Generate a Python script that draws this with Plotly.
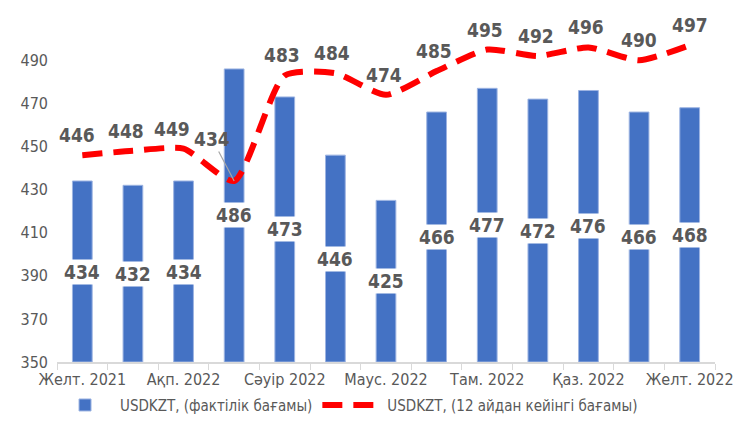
import plotly.graph_objects as go

months = ["Желт. 2021", "Қаң. 2022", "Ақп. 2022", "Нау. 2022", "Сәуір 2022", "Мам. 2022",
          "Маус. 2022", "Шілде 2022", "Там. 2022", "Қырк. 2022", "Қаз. 2022", "Қар. 2022", "Желт. 2022"]
tick_labels = ["Желт. 2021", "", "Ақп. 2022", "", "Сәуір 2022", "", "Маус. 2022", "",
               "Там. 2022", "", "Қаз. 2022", "", "Желт. 2022"]
actual = [434, 432, 434, 486, 473, 446, 425, 466, 477, 472, 476, 466, 468]
expected = [446, 448, 449, 434, 483, 484, 474, 485, 495, 492, 496, 490, 497]

name_bar = "USDKZT, (фактілік бағамы)"
name_line = "USDKZT, (12 айдан кейінгі бағамы)"

FONT = "DejaVu Sans Condensed, Liberation Sans Narrow, sans-serif"
GREY = "#595959"

fig = go.Figure()
fig.add_trace(go.Bar(
    x=months, y=[v - 350 for v in actual], base=350, name=name_bar,
    marker=dict(color="#4472C4", line=dict(color="#9DB4E2", width=1)),
    width=0.39, hoverinfo="skip",
))
fig.add_trace(go.Scatter(
    x=months, y=expected, name=name_line, mode="lines",
    line=dict(color="#FF0000", width=6, dash="20px,11px", shape="spline", smoothing=0.6),
))

line_xshift = [-5, -7, -12, 0, -3, -3, -2, -3, -2, -2, -2, 0, 0]
annotations = []
for m, v in zip(months, actual):
    annotations.append(dict(
        x=m, y=(350 + v) / 2, text=f"<b>{v}</b>", showarrow=False,
        bgcolor="white", borderpad=1,
        font=dict(family=FONT, size=19, color=GREY),
    ))
for i, (m, v) in enumerate(zip(months, expected)):
    if i == 3:
        annotations.append(dict(
            x=m, y=v, text=f"<b>{v}</b>", showarrow=True, arrowhead=0,
            arrowcolor="#A6A6A6", arrowwidth=1.2, ax=-22, ay=-42,
            font=dict(family=FONT, size=19, color=GREY),
        ))
    else:
        annotations.append(dict(
            x=m, y=v, text=f"<b>{v}</b>", showarrow=False, yshift=20, xshift=line_xshift[i],
            font=dict(family=FONT, size=19, color=GREY),
        ))

fig.update_layout(
    width=737, height=428,
    margin=dict(l=49, r=18, t=20, b=74),
    paper_bgcolor="white", plot_bgcolor="white",
    font=dict(family=FONT, size=15, color=GREY),
    bargap=0.6,
    showlegend=True,
    legend=dict(orientation="h", x=0.44, xanchor="center", y=-0.08, yanchor="top",
                font=dict(family=FONT, size=15, color=GREY), itemwidth=60),
    annotations=annotations,
    xaxis=dict(
        type="category", tickmode="array", tickvals=months, ticktext=tick_labels,
        tickson="boundaries", ticks="outside", ticklen=6, tickcolor="#D9D9D9",
        showline=True, linecolor="#D9D9D9", linewidth=1.5, showgrid=False,
        tickfont=dict(family=FONT, size=16, color=GREY), tickangle=0,
        ticklabelstandoff=2,
    ),
    yaxis=dict(
        range=[350, 505], tickmode="array", tickvals=[350, 370, 390, 410, 430, 450, 470, 490],
        showgrid=False, zeroline=False, showline=False,
        tickfont=dict(family=FONT, size=16, color=GREY), ticklabelstandoff=8,
    ),
)

fig.write_html("out.html")
